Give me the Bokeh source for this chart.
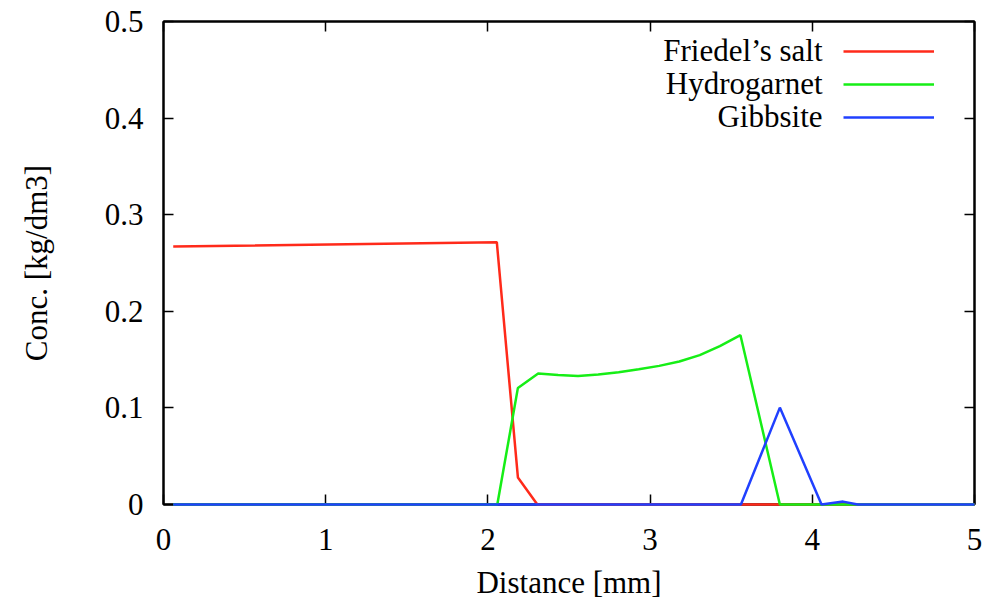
from bokeh.plotting import figure
from bokeh.models import (LinearAxis, Range1d, FixedTicker, Legend, LegendItem, Label,
                          CustomJSTickFormatter)
from bokeh.embed import file_html
from bokeh.resources import INLINE

# ---- data ----
fs_x = [0.06, 2.055, 2.185, 2.305, 5.0]
fs_y = [0.267, 0.2715, 0.028, 0.0, 0.0]

hg_x = [0.06, 2.058, 2.185, 2.31, 2.433, 2.556, 2.68, 2.806, 2.93, 3.056, 3.18, 3.306, 3.43, 3.557, 3.80, 5.0]
hg_y = [0.0, 0.0, 0.1207, 0.1356, 0.1340, 0.1331, 0.1345, 0.1370, 0.1400, 0.1435, 0.1480, 0.1546, 0.1640, 0.1753, 0.0, 0.0]

gb_x = [0.06, 3.56, 3.80, 4.057, 4.19, 4.28, 5.0]
gb_y = [0.0, 0.0, 0.1003, 0.0, 0.003, 0.0, 0.0]

x_ticks = [0, 1, 2, 3, 4, 5]
y_ticks = [0, 0.1, 0.2, 0.3, 0.4, 0.5]
y_tick_labels = {0: "0", 0.1: "0.1", 0.2: "0.2", 0.3: "0.3", 0.4: "0.4", 0.5: "0.5"}
series_names = ["Friedel\u2019s salt", "Hydrogarnet", "Gibbsite"]
series_colors = ["#ff2a1a", "#16ee16", "#2040ff"]

FONT = "Liberation Serif"
FS = "31px"

p = figure(width=1001, height=605, output_backend="svg", toolbar_location=None,
           x_range=Range1d(0, 5), y_range=Range1d(0, 0.5),
           min_border_left=163, min_border_right=27, min_border_top=21, min_border_bottom=101,
           background_fill_color="white", border_fill_color="white")
p.grid.visible = False
p.outline_line_color = "black"
p.outline_line_width = 2

r1 = p.line(fs_x, fs_y, line_color=series_colors[0], line_width=2.5, level="overlay")
r2 = p.line(hg_x, hg_y, line_color=series_colors[1], line_width=2.5, level="overlay")
r3 = p.line(gb_x, gb_y, line_color=series_colors[2], line_width=2.5, level="overlay")

for ax in (p.xaxis[0], p.yaxis[0]):
    ax.major_tick_in = 10
    ax.major_tick_out = 0
    ax.minor_tick_line_color = None
    ax.axis_line_color = "black"
    ax.axis_line_width = 2
    ax.major_tick_line_width = 1.5
    ax.major_label_text_font = FONT
    ax.major_label_text_font_size = FS
    ax.major_label_text_color = "black"
    ax.axis_label_text_font = FONT
    ax.axis_label_text_font_size = FS
    ax.axis_label_text_font_style = "normal"
    ax.axis_label_text_color = "black"

p.xaxis[0].ticker = FixedTicker(ticks=x_ticks)
p.yaxis[0].ticker = FixedTicker(ticks=y_ticks)
p.yaxis[0].major_label_overrides = y_tick_labels
p.xaxis[0].axis_label = "Distance [mm]"
p.yaxis[0].axis_label = "Conc. [kg/dm3]"
p.xaxis[0].major_label_standoff = 24
p.yaxis[0].major_label_standoff = 20
p.xaxis[0].axis_label_standoff = 12
p.yaxis[0].axis_label_standoff = 48

blank = CustomJSTickFormatter(code="return ''")
top = LinearAxis(ticker=FixedTicker(ticks=x_ticks), formatter=blank,
                 major_tick_in=10, major_tick_out=0, minor_tick_line_color=None,
                 axis_line_color="black", axis_line_width=2, major_tick_line_width=1.5,
                 major_label_standoff=0, major_label_text_font_size="1px")
right = LinearAxis(ticker=FixedTicker(ticks=y_ticks), formatter=blank,
                   major_tick_in=10, major_tick_out=0, minor_tick_line_color=None,
                   axis_line_color="black", axis_line_width=2, major_tick_line_width=1.5,
                   major_label_standoff=0, major_label_text_font_size="1px")
p.add_layout(top, "above")
p.add_layout(right, "right")

legend = Legend(items=[LegendItem(label=" ", renderers=[r]) for r in (r1, r2, r3)],
                location=(680, 372), glyph_width=91, glyph_height=30, label_height=30,
                label_width=0, label_standoff=0, spacing=3, padding=0, margin=0,
                border_line_color=None, background_fill_alpha=0,
                label_text_font_size="1px")
p.add_layout(legend, "center")

for i, name in enumerate(series_names):
    p.add_layout(Label(x=659, y=454 - 33 * i, x_units="screen", y_units="screen",
                       text=name, text_align="right", text_baseline="middle",
                       text_font=FONT, text_font_size=FS, text_color="black"))

open("out.html", "w").write(file_html(p, INLINE))
